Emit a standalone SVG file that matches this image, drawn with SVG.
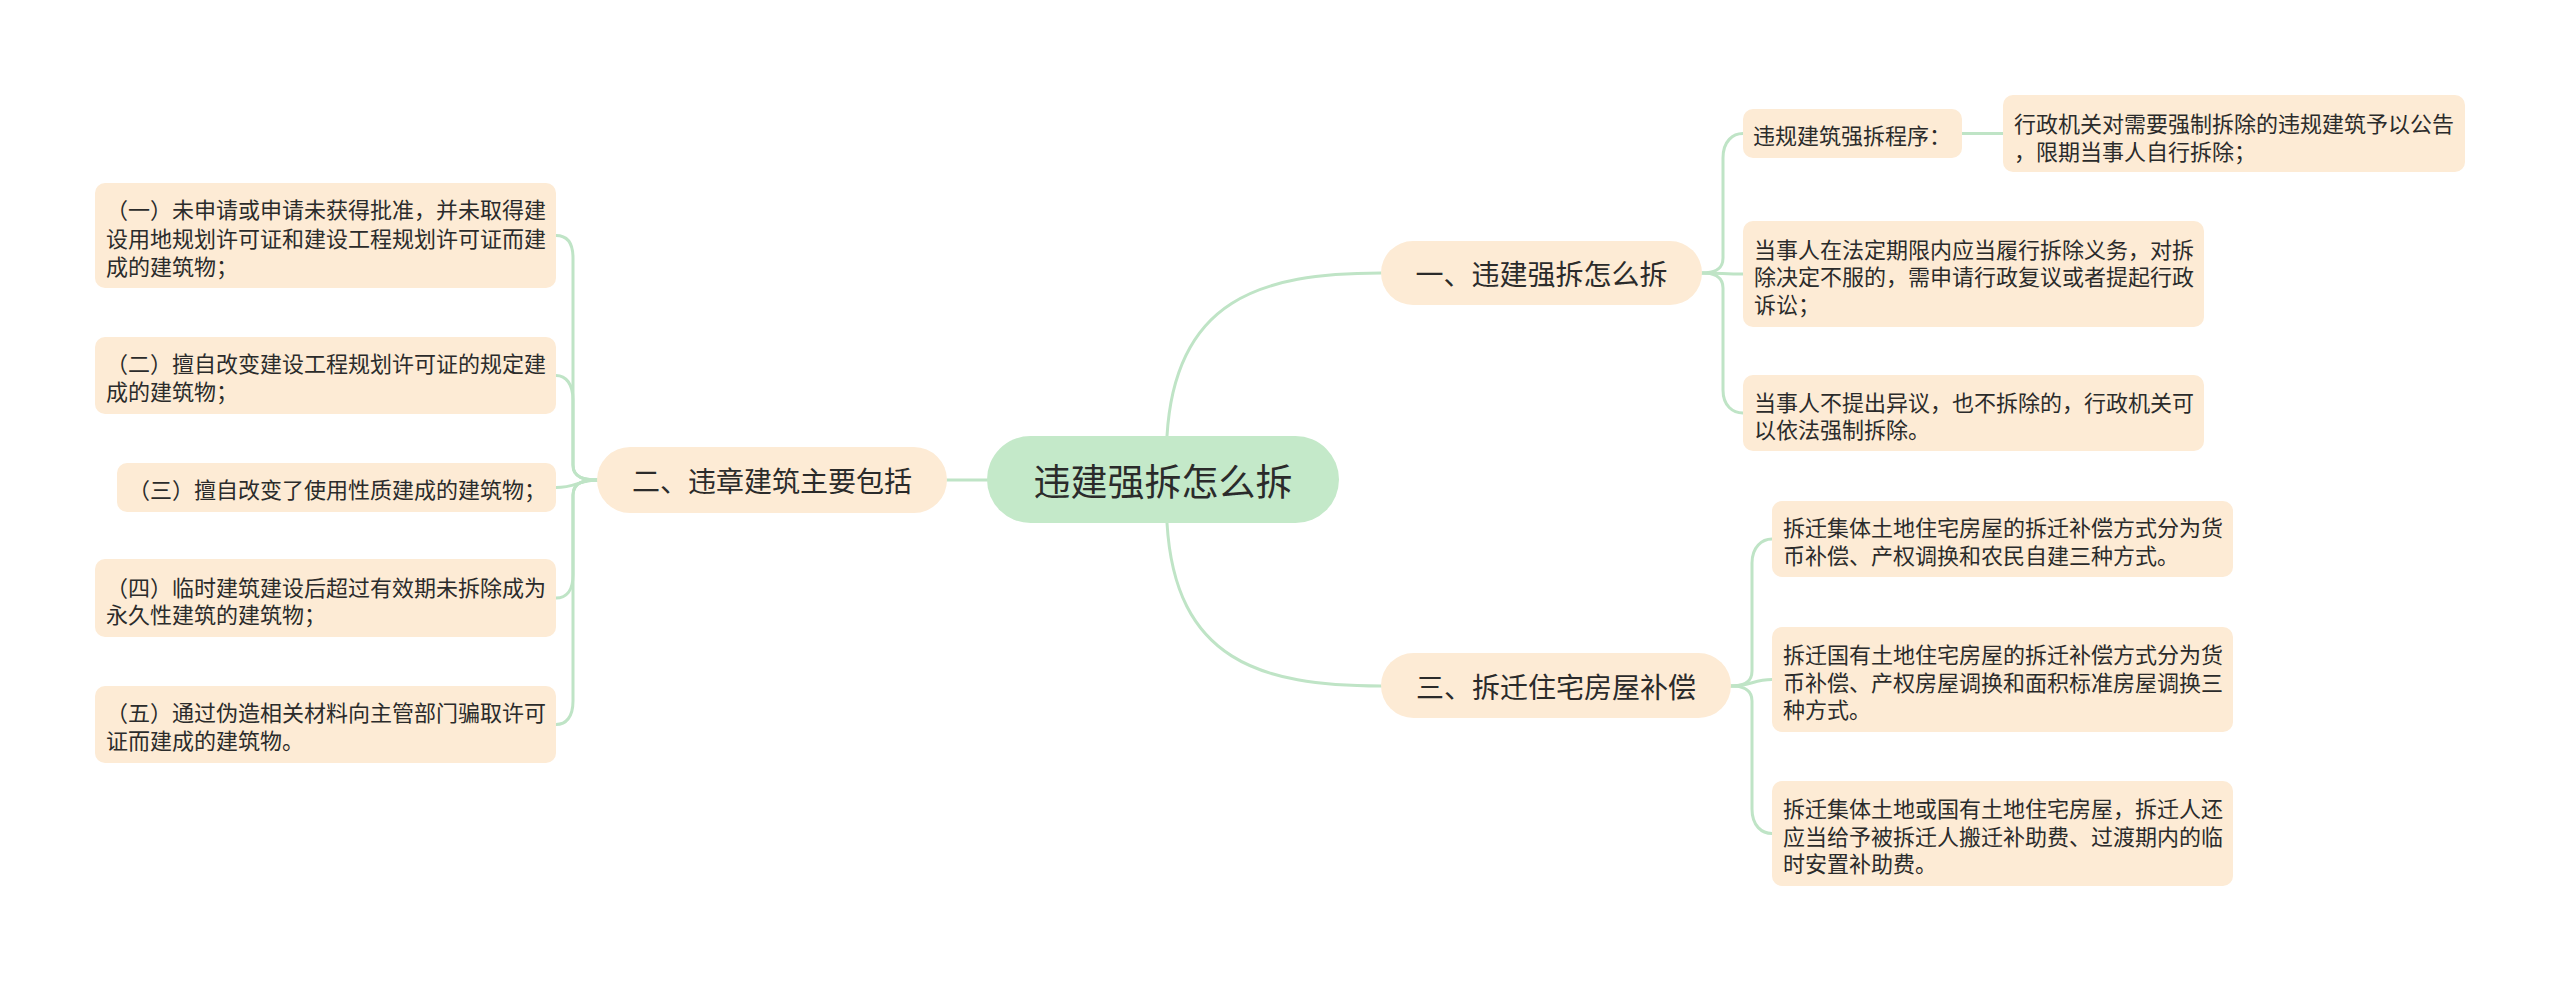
<svg xmlns="http://www.w3.org/2000/svg" width="2560" height="981" viewBox="0 0 2560 981">
<style>
.bg{fill:#ffffff}
.conn path{fill:none;stroke:#bfe4c6;stroke-width:3;stroke-linecap:round}
.leaf rect{fill:#fdebd5}
.main rect{fill:#fdebd5}
.root rect{fill:#c4e9c9}
text{font-family:"Noto Sans CJK SC","Noto Sans",sans-serif;fill:#2b2b2b;dominant-baseline:central}
.t22{font-size:22px}
.t28{font-size:28px;text-anchor:middle}
.t37{font-size:37px;text-anchor:middle}
</style>
<rect class="bg" x="0" y="0" width="2560" height="981"/>
<g id="connectors" class="conn">
<path d="M1167,436 C1175,300 1260,273 1381,273"/>
<path d="M1167,523 C1175,660 1260,686 1381,686"/>
<path d="M987,480 L947,480"/>
<path d="M597,480 C585,480 573,478 573,465 L573,258 C573,242 566,235.5 556,235.5"/>
<path d="M597,480 C585,480 573,478 573,465 L573,400 C573,384 566,375.5 556,375.5"/>
<path d="M597,480 C580,480 575,487.5 556,487.5"/>
<path d="M597,480 C585,480 573,482 573,495 L573,575 C573,591 566,598 556,598"/>
<path d="M597,480 C585,480 573,482 573,495 L573,701 C573,717 566,724.5 556,724.5"/>
<path d="M1702,273 C1712,273 1723,271 1723,258 L1723,158 C1723,141 1733,133.5 1743,133.5"/>
<path d="M1702,273 C1720,273 1725,274 1743,274"/>
<path d="M1702,273 C1712,273 1723,275 1723,288 L1723,390 C1723,406 1733,413 1743,413"/>
<path d="M1962,133.5 L2003,133.5"/>
<path d="M1731,686 C1741,686 1752,684 1752,671 L1752,563 C1752,547 1762,539 1772,539"/>
<path d="M1731,686 C1750,686 1754,679.5 1772,679.5"/>
<path d="M1731,686 C1741,686 1752,688 1752,701 L1752,809 C1752,826 1762,833.5 1772,833.5"/>
</g>
<g id="root" class="root">
<rect x="987" y="436" width="352" height="87" rx="43.5"/>
<text class="t37" x="1163" y="480">违建强拆怎么拆</text>
</g>
<g id="n2" class="main">
<rect x="597" y="447" width="350" height="66" rx="33"/>
<text class="t28" x="772" y="480">二、违章建筑主要包括</text>
</g>
<g id="n1" class="main">
<rect x="1381" y="241" width="321" height="64" rx="32"/>
<text class="t28" x="1541.5" y="273">一、违建强拆怎么拆</text>
</g>
<g id="n3" class="main">
<rect x="1381" y="653" width="350" height="65" rx="32.5"/>
<text class="t28" x="1556" y="686">三、拆迁住宅房屋补偿</text>
</g>
<g id="l2a" class="leaf">
<rect x="95" y="183" width="461" height="105" rx="10"/>
<text class="t22" x="106" y="208">（一）未申请或申请未获得批准，并未取得建</text>
<text class="t22" x="106" y="236.5">设用地规划许可证和建设工程规划许可证而建</text>
<text class="t22" x="106" y="265">成的建筑物；</text>
</g>
<g id="l2b" class="leaf">
<rect x="95" y="337" width="461" height="77" rx="10"/>
<text class="t22" x="106" y="362">（二）擅自改变建设工程规划许可证的规定建</text>
<text class="t22" x="106" y="390">成的建筑物；</text>
</g>
<g id="l2c" class="leaf">
<rect x="117" y="463" width="439" height="49" rx="10"/>
<text class="t22" x="128" y="488">（三）擅自改变了使用性质建成的建筑物；</text>
</g>
<g id="l2d" class="leaf">
<rect x="95" y="559" width="461" height="78" rx="10"/>
<text class="t22" x="106" y="585.5">（四）临时建筑建设后超过有效期未拆除成为</text>
<text class="t22" x="106" y="613">永久性建筑的建筑物；</text>
</g>
<g id="l2e" class="leaf">
<rect x="95" y="686" width="461" height="77" rx="10"/>
<text class="t22" x="106" y="711">（五）通过伪造相关材料向主管部门骗取许可</text>
<text class="t22" x="106" y="738.5">证而建成的建筑物。</text>
</g>
<g id="l1a" class="leaf">
<rect x="1743" y="109" width="219" height="49" rx="10"/>
<text class="t22" x="1753" y="133.5">违规建筑强拆程序：</text>
</g>
<g id="l1a1" class="leaf">
<rect x="2003" y="95" width="462" height="77" rx="10"/>
<text class="t22" x="2014" y="122">行政机关对需要强制拆除的违规建筑予以公告</text>
<text class="t22" x="2014" y="150">，限期当事人自行拆除；</text>
</g>
<g id="l1b" class="leaf">
<rect x="1743" y="221" width="461" height="106" rx="10"/>
<text class="t22" x="1754" y="247.5">当事人在法定期限内应当履行拆除义务，对拆</text>
<text class="t22" x="1754" y="275">除决定不服的，需申请行政复议或者提起行政</text>
<text class="t22" x="1754" y="302.5">诉讼；</text>
</g>
<g id="l1c" class="leaf">
<rect x="1743" y="375" width="461" height="76" rx="10"/>
<text class="t22" x="1754" y="400.5">当事人不提出异议，也不拆除的，行政机关可</text>
<text class="t22" x="1754" y="427.5">以依法强制拆除。</text>
</g>
<g id="l3a" class="leaf">
<rect x="1772" y="501" width="461" height="76" rx="10"/>
<text class="t22" x="1783" y="526">拆迁集体土地住宅房屋的拆迁补偿方式分为货</text>
<text class="t22" x="1783" y="553.5">币补偿、产权调换和农民自建三种方式。</text>
</g>
<g id="l3b" class="leaf">
<rect x="1772" y="627" width="461" height="105" rx="10"/>
<text class="t22" x="1783" y="653">拆迁国有土地住宅房屋的拆迁补偿方式分为货</text>
<text class="t22" x="1783" y="680.5">币补偿、产权房屋调换和面积标准房屋调换三</text>
<text class="t22" x="1783" y="708">种方式。</text>
</g>
<g id="l3c" class="leaf">
<rect x="1772" y="781" width="461" height="105" rx="10"/>
<text class="t22" x="1783" y="807">拆迁集体土地或国有土地住宅房屋，拆迁人还</text>
<text class="t22" x="1783" y="834.5">应当给予被拆迁人搬迁补助费、过渡期内的临</text>
<text class="t22" x="1783" y="862">时安置补助费。</text>
</g>
</svg>
